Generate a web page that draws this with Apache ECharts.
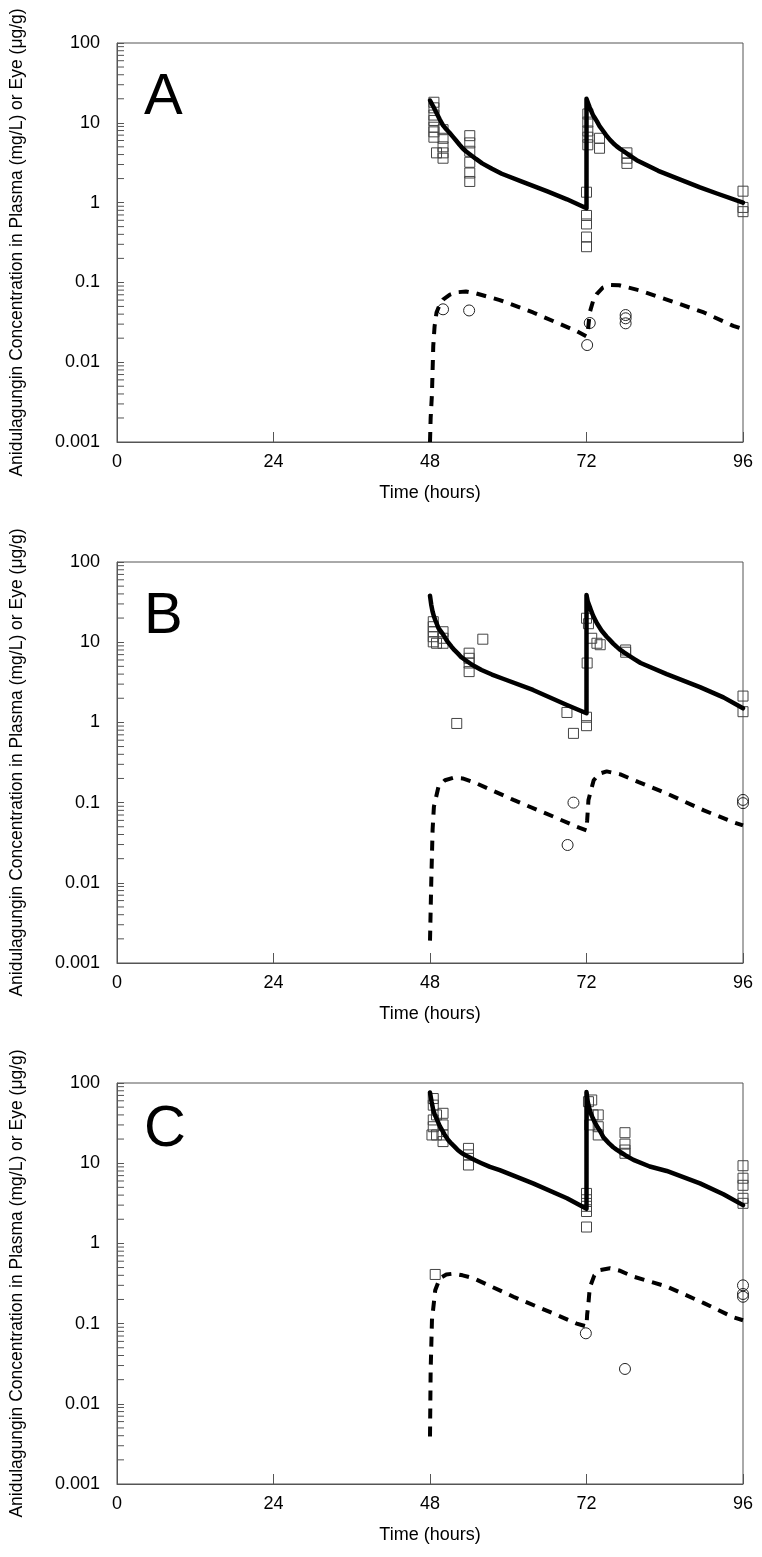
<!DOCTYPE html>
<html><head><meta charset="utf-8">
<script src="https://cdn.jsdelivr.net/npm/echarts@6/dist/echarts.min.js"></script>
<style>html,body{margin:0;padding:0;background:#fff}#c{width:762px;height:1557px}</style>
</head><body><div id="c"></div>
<script>
// ---------- tick labels / categories ----------
const panelLetters = ['A', 'B', 'C'];
const xTicks = [0, 24, 48, 72, 96];
const yTickLabels = ['0.001', '0.01', '0.1', '1', '10', '100'];
const yMinorTicks = [0.002,0.003,0.004,0.005,0.006,0.007,0.008,0.009,
  0.02,0.03,0.04,0.05,0.06,0.07,0.08,0.09,
  0.2,0.3,0.4,0.5,0.6,0.7,0.8,0.9,
  2,3,4,5,6,7,8,9,
  20,30,40,50,60,70,80,90];
const xTitle = 'Time (hours)';
const yTitle = 'Anidulagungin Concentration in Plasma (mg/L) or Eye (μg/g)';

// ---------- Panel A ----------
const plasmaObsA = [[48.6,18.1],[48.6,15.4],[48.6,12.5],[48.6,10.7],[48.6,8.8],[48.6,7.7],[48.6,6.6],[49,4.2],
  [50,8.2],[50,6.4],[50,5.0],[50,4.2],[50,3.6],
  [54.1,6.9],[54.1,5.6],[54.1,4.4],[54.1,3.2],[54.1,2.35],[54.1,1.84],
  [72.2,12.9],[72.2,10.2],[72.2,7.9],[72.2,6.6],[72.2,5.3],[74,6.4],[74,4.8],
  [78.2,4.2],[78.2,3.6],[78.2,3.1],
  [72,1.35],[72,0.69],[72,0.54],[72,0.37],[72,0.28],
  [96,1.39],[96,0.87],[96,0.77]];
const eyeObsA = [[50,0.046],[54,0.0445],[72.1,0.0164],[72.5,0.031],[78,0.039],[78,0.0355],[78,0.0307]];
const plasmaFitA = [[48,19],[48.25,17.4],[48.5,16],[48.75,14.6],[49,13.3],[49.5,11],[50,9.3],[50.5,8.3],[51,7.5],
  [51.5,6.7],[52,6.0],[52.5,5.35],[53,4.8],[53.5,4.4],[54,4.1],[55,3.55],[56,3.1],[57.5,2.65],
  [59,2.3],[62,1.85],[66,1.38],[69,1.1],[72,0.85],
  [72,20],[72.25,17.6],[72.5,15.5],[72.75,13.9],[73,12.5],[73.3,11.4],[73.6,10.4],[74,9.1],[74.5,8],
  [75,7],[75.6,6.1],[76.1,5.55],[76.6,5.1],[77.1,4.75],[77.7,4.4],[78.6,3.9],[79.7,3.4],[81.2,2.95],
  [83,2.5],[86,2.0],[89.4,1.55],[92,1.3],[96,1.0]];
const eyeFitA = [[48,0.001],[48.1,0.002],[48.3,0.004],[48.5,0.016],[48.7,0.028],[49,0.042],[49.5,0.053],
  [50,0.061],[51,0.07],[52,0.075],[53.5,0.077],[55,0.073],[58.7,0.06],[63.8,0.042],[70.5,0.0245],[72,0.021],
  [72.2,0.024],[72.5,0.042],[73,0.058],[73.6,0.072],[74.5,0.086],[75.6,0.093],[77,0.092],[80,0.08],
  [84.3,0.061],[90,0.042],[94.5,0.0285],[96,0.026]];

// ---------- Panel B ----------
const plasmaObsB = [[48.5,18],[48.5,15.6],[48.5,13.5],[48.5,11.7],[48.5,10.1],[49,9.7],
  [50,13.5],[50,11.2],[50,9.7],
  [54,7.3],[54,6.3],[54,5.5],[54,4.3],[56.1,10.9],[52.1,0.97],
  [72,19.9],[72.3,17],[72.8,11.2],[73.6,9.7],[74.1,9.3],[72.1,5.5],
  [78,8.0],[78,7.5],[69,1.33],[70,0.73],[72,1.16],[72,0.91],
  [96,2.13],[96,1.36]];
const eyeObsB = [[70,0.1],[69.1,0.0296],[96,0.108],[96,0.0985]];
const plasmaFitB = [[48,38],[48.2,29],[48.4,24],[48.6,21],[48.8,18.9],[49.3,15],[50,12.5],[50.6,10.4],[51.3,8.8],
  [51.8,7.9],[52.3,7.2],[52.8,6.5],[53.4,6.0],[54.5,5.2],[55.9,4.5],[57.5,3.95],[59.2,3.5],[63.8,2.54],[69,1.65],[72,1.3],
  [72,38.8],[72.2,32],[72.5,27.7],[72.75,24.2],[73,21.5],[73.3,19.2],[73.6,17.2],[74.3,14],[75.1,11.7],[75.6,10.6],
  [76.1,9.6],[76.6,8.8],[77.2,8.0],[77.8,7.4],[78.5,6.8],[79.4,6.1],
  [80.3,5.5],[84.3,4.0],[89.4,2.75],[93,2.05],[96,1.5]];
const eyeFitB = [[48,0.0019],[48.2,0.0108],[48.4,0.046],[48.6,0.089],[49.3,0.158],[50.3,0.19],[51.6,0.204],
  [53,0.2],[54.7,0.18],[60.8,0.108],[66.9,0.067],[70.5,0.05],[72,0.045],
  [72.1,0.06],[72.3,0.108],[73.1,0.19],[74,0.23],[75.1,0.245],[77.2,0.225],[80,0.18],[84.3,0.13],
  [90,0.08],[94.5,0.057],[96,0.052]];

// ---------- Panel C ----------
const plasmaObsC = [[48.5,64],[48.5,53],[48.5,34.6],[48.5,28.5],[48.3,22.5],[49,40],[49,22.5],
  [50,41.9],[50,30],[50,22.5],[50,18.6],
  [53.9,15.3],[53.9,12.7],[53.9,9.5],
  [72,4.2],[72,3.5],[72,2.9],[72,2.5],[72,1.6],
  [72.3,58.5],[72.8,61.4],[73,40],[73.8,40],[72.5,30],[73.8,28.5],[73.8,22.5],
  [77.9,24],[77.9,17.3],[77.9,14.6],[77.9,13.3],
  [96,9.3],[96,6.5],[96,5.3],[96,3.65],[96,3.16],[48.8,0.41]];
const eyeObsC = [[71.9,0.0757],[77.9,0.0272],[96,0.30],[96,0.234],[96,0.216]];
const plasmaFitC = [[48,76],[48.25,58],[48.5,46],[48.75,40],[49,36],[49.5,29],[50.2,23],[50.8,19.4],[51.3,17.5],[51.8,16],
  [52.3,14.5],[52.9,13.3],[53.5,12.5],[54.1,11.8],[55,10.8],[55.9,10],[57.2,9],[58.7,8.2],[63.8,5.6],[69,3.65],[72,2.7],
  [72,77],[72.2,58],[72.5,46],[72.75,40],[73,36],[73.3,32],[73.7,28],[74.1,25],[74.6,21],[75.1,19],[75.5,17.5],
  [76.1,15.8],[76.6,14.8],[77.3,13.6],[78,12.5],[79.2,11],
  [81.7,9.1],[84.3,8.0],[89.4,5.6],[93,4.1],[96,3.0]];
const eyeFitC = [[48,0.0039],[48.05,0.01],[48.1,0.026],[48.3,0.11],[48.8,0.26],[49.5,0.367],[50.5,0.41],
  [51.6,0.42],[53,0.4],[54.7,0.367],[60.8,0.216],[66.9,0.134],[70.5,0.1],[72,0.092],
  [72.1,0.13],[72.3,0.18],[72.5,0.28],[73.2,0.4],[74.1,0.466],[75.6,0.49],[77,0.46],[79.2,0.385],
  [84.3,0.29],[90,0.18],[94.5,0.12],[96,0.11]];

const panels = [
  {plasmaObs: plasmaObsA, eyeObs: eyeObsA, plasmaFit: plasmaFitA, eyeFit: eyeFitA},
  {plasmaObs: plasmaObsB, eyeObs: eyeObsB, plasmaFit: plasmaFitB, eyeFit: eyeFitB},
  {plasmaObs: plasmaObsC, eyeObs: eyeObsC, plasmaFit: plasmaFitC, eyeFit: eyeFitC}
];

// ---------- layout ----------
const FONT = 'Liberation Sans, Arial, sans-serif';
const AX = '#555';
const gridBoxes = [
  {left: 117, width: 626, top: 43, height: 399},
  {left: 117, width: 626, top: 562, height: 401},
  {left: 117, width: 626, top: 1083, height: 401}
];
const letterTops = [69, 588, 1101];

const chart = echarts.init(document.getElementById('c'), null, {renderer: 'canvas'});

const grids = [], xAxes = [], yAxes = [], series = [], titles = [];
gridBoxes.forEach((g, i) => {
  grids.push(Object.assign({show: true, borderColor: AX, borderWidth: 1, backgroundColor: 'transparent', containLabel: false}, g));
  titles.push({text: panelLetters[i], left: 144, top: letterTops[i], padding: 0,
    textStyle: {fontSize: 58, fontWeight: 'normal', color: '#000', fontFamily: FONT}});
  xAxes.push({
    type: 'value', gridIndex: i, min: xTicks[0], max: xTicks[xTicks.length - 1], interval: 24,
    axisLine: {show: true, lineStyle: {color: AX, width: 1}},
    axisTick: {show: true, inside: true, length: 10, lineStyle: {color: AX, width: 1}},
    axisLabel: {fontSize: 18, color: '#000', margin: 11, fontFamily: FONT},
    splitLine: {show: false},
    name: xTitle, nameLocation: 'middle', nameGap: 42,
    nameTextStyle: {fontSize: 18, color: '#000', fontFamily: FONT}
  });
  yAxes.push({
    type: 'log', logBase: 10, gridIndex: i, min: 0.001, max: 100,
    axisLine: {show: true, lineStyle: {color: AX, width: 1}},
    axisTick: {show: true, inside: true, length: 7, lineStyle: {color: AX, width: 1}},
    axisLabel: {fontSize: 18, color: '#000', margin: 17, fontFamily: FONT,
      formatter: v => yTickLabels[Math.round(Math.log10(v)) + 3]},
    splitLine: {show: false},
    name: yTitle, nameLocation: 'middle', nameGap: 91,
    nameTextStyle: {fontSize: 17.5, color: '#000', fontFamily: FONT}
  });
  const p = panels[i];
  series.push({
    type: 'custom', xAxisIndex: i, yAxisIndex: i, silent: true, clip: false,
    data: yMinorTicks.map(v => [0, v]),
    renderItem: (params, api) => {
      const pt = api.coord([api.value(0), api.value(1)]);
      return {type: 'line', shape: {x1: pt[0], y1: pt[1], x2: pt[0] + 7, y2: pt[1]},
        style: {stroke: AX, lineWidth: 1}};
    }
  });
  series.push({
    type: 'scatter', xAxisIndex: i, yAxisIndex: i, symbol: 'rect', symbolSize: 10,
    data: p.plasmaObs,
    itemStyle: {color: 'rgba(0,0,0,0)', borderColor: '#444', borderWidth: 1, opacity: 1}
  });
  series.push({
    type: 'scatter', xAxisIndex: i, yAxisIndex: i, symbol: 'circle', symbolSize: 11,
    data: p.eyeObs,
    itemStyle: {color: 'rgba(0,0,0,0)', borderColor: '#222', borderWidth: 1, opacity: 1}
  });
  series.push({
    type: 'line', xAxisIndex: i, yAxisIndex: i, showSymbol: false, symbol: 'none',
    data: p.plasmaFit,
    lineStyle: {color: '#000', width: 4.5, cap: 'round', join: 'round'}
  });
  series.push({
    type: 'line', xAxisIndex: i, yAxisIndex: i, showSymbol: false, symbol: 'none',
    data: p.eyeFit,
    lineStyle: {color: '#000', width: 4, type: [10, 8]}
  });
});

chart.setOption({
  animation: false,
  backgroundColor: '#fff',
  title: titles,
  grid: grids,
  xAxis: xAxes,
  yAxis: yAxes,
  series: series
});
</script></body></html>
